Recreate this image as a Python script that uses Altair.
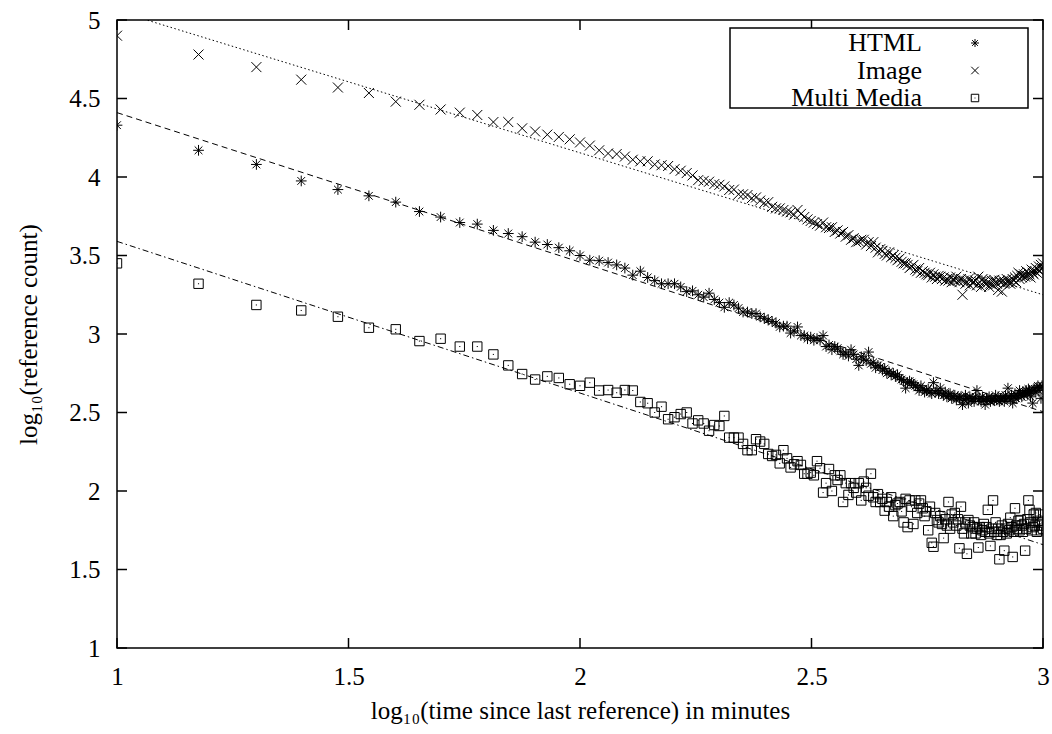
import altair as alt
import numpy as np
import pandas as pd

# time since last reference (minutes), sampled every 5 minutes
minutes = list(range(10, 1001, 5))

html_counts = [
    4.33, 4.17, 4.08, 3.975, 3.92, 3.88, 3.84, 3.78, 3.745, 3.71,
    3.70, 3.66, 3.64, 3.62, 3.585, 3.57, 3.55, 3.53, 3.50, 3.47,
    3.467, 3.455, 3.44, 3.42, 3.375, 3.40, 3.36, 3.34, 3.32, 3.32,
    3.32, 3.30, 3.27, 3.275, 3.25, 3.235, 3.26, 3.22, 3.20, 3.17,
    3.20, 3.185, 3.165, 3.14, 3.14, 3.13, 3.13, 3.11, 3.10, 3.09,
    3.08, 3.07, 3.045, 3.05, 3.05, 3.006, 3.02, 3.045, 2.99, 2.99,
    2.97, 2.98, 2.96, 2.97, 2.96, 2.99, 2.92, 2.93, 2.90, 2.92,
    2.91, 2.89, 2.87, 2.88, 2.86, 2.90, 2.87, 2.84, 2.80, 2.855,
    2.84, 2.83, 2.885, 2.81, 2.82, 2.785, 2.80, 2.79, 2.77, 2.78,
    2.75, 2.76, 2.74, 2.75, 2.73, 2.74, 2.72, 2.71, 2.70, 2.655,
    2.69, 2.70, 2.69, 2.68, 2.67, 2.66, 2.64, 2.67, 2.65, 2.63,
    2.64, 2.65, 2.63, 2.62, 2.69, 2.63, 2.64, 2.62, 2.655, 2.62,
    2.61, 2.63, 2.60, 2.61, 2.62, 2.59, 2.60, 2.61, 2.58, 2.60,
    2.59, 2.60, 2.55, 2.58, 2.61, 2.59, 2.56, 2.60, 2.58, 2.59,
    2.57, 2.60, 2.64, 2.58, 2.59, 2.57, 2.60, 2.58, 2.55, 2.59,
    2.58, 2.60, 2.57, 2.59, 2.58, 2.575, 2.61, 2.58, 2.60, 2.57,
    2.59, 2.58, 2.60, 2.57, 2.61, 2.59, 2.655, 2.60, 2.58, 2.61,
    2.56, 2.60, 2.62, 2.59, 2.61, 2.60, 2.64, 2.62, 2.60, 2.63,
    2.61, 2.63, 2.64, 2.62, 2.65, 2.64, 2.60, 2.63, 2.56, 2.64,
    2.65, 2.63, 2.66, 2.67, 2.64, 2.66, 2.59, 2.67, 2.66,
]

image_counts = [
    4.90, 4.78, 4.70, 4.62, 4.57, 4.535, 4.48, 4.46, 4.43, 4.41,
    4.395, 4.35, 4.35, 4.31, 4.29, 4.27, 4.255, 4.24, 4.22, 4.20,
    4.17, 4.15, 4.146, 4.13, 4.11, 4.10, 4.10, 4.08, 4.075, 4.07,
    4.05, 4.04, 4.025, 4.01, 3.98, 3.975, 3.97, 3.955, 3.95, 3.94,
    3.917, 3.92, 3.89, 3.89, 3.885, 3.865, 3.87, 3.85, 3.835, 3.84,
    3.81, 3.80, 3.80, 3.79, 3.78, 3.775, 3.76, 3.79, 3.765, 3.745,
    3.73, 3.72, 3.71, 3.70, 3.69, 3.71, 3.68, 3.675, 3.68, 3.65,
    3.66, 3.64, 3.65, 3.62, 3.63, 3.60, 3.61, 3.585, 3.59, 3.60,
    3.60, 3.57, 3.585, 3.56, 3.585, 3.55, 3.52, 3.54, 3.53, 3.51,
    3.50, 3.52, 3.49, 3.50, 3.485, 3.47, 3.48, 3.46, 3.45, 3.45,
    3.44, 3.42, 3.43, 3.44, 3.41, 3.40, 3.42, 3.39, 3.40, 3.39,
    3.38, 3.375, 3.39, 3.36, 3.38, 3.365, 3.35, 3.37, 3.365, 3.35,
    3.36, 3.34, 3.35, 3.34, 3.36, 3.33, 3.35, 3.34, 3.365, 3.34,
    3.33, 3.35, 3.25, 3.34, 3.32, 3.33, 3.35, 3.31, 3.34, 3.325,
    3.33, 3.34, 3.31, 3.365, 3.33, 3.30, 3.35, 3.33, 3.34, 3.32,
    3.33, 3.30, 3.32, 3.34, 3.31, 3.345, 3.33, 3.32, 3.28, 3.34,
    3.33, 3.27, 3.34, 3.32, 3.325, 3.35, 3.33, 3.34, 3.32, 3.33,
    3.35, 3.34, 3.36, 3.33, 3.37, 3.39, 3.35, 3.38, 3.36, 3.37,
    3.38, 3.365, 3.40, 3.37, 3.39, 3.38, 3.36, 3.41, 3.39, 3.38,
    3.40, 3.42, 3.39, 3.41, 3.43, 3.40, 3.44, 3.42, 3.45,
]

multimedia_counts = [
    3.45, 3.32, 3.185, 3.15, 3.11, 3.04, 3.03, 2.955, 2.97, 2.92,
    2.92, 2.87, 2.80, 2.745, 2.71, 2.73, 2.72, 2.68, 2.67, 2.69,
    2.64, 2.643, 2.626, 2.643, 2.64, 2.567, 2.559, 2.50, 2.537, 2.457,
    2.47, 2.49, 2.50, 2.43, 2.45, 2.43, 2.384, 2.42, 2.414, 2.478,
    2.34, 2.34, 2.34, 2.30, 2.26, 2.26, 2.33, 2.315, 2.30, 2.236,
    2.223, 2.23, 2.176, 2.26, 2.208, 2.15, 2.17, 2.19, 2.166, 2.11,
    2.11, 2.117, 2.10, 2.19, 2.145, 1.99, 2.05, 2.14, 2.00, 2.10,
    2.07, 2.10, 1.93, 2.05, 1.975, 2.05, 2.02, 1.99, 2.05, 1.94,
    2.06, 2.02, 1.97, 2.11, 1.96, 1.93, 1.98, 1.93, 1.95, 1.875,
    1.93, 1.90, 1.96, 1.84, 1.91, 1.92, 1.93, 1.87, 1.80, 1.95,
    1.77, 1.94, 1.90, 1.79, 1.94, 1.86, 1.92, 1.94, 1.89, 1.84,
    1.87, 1.75, 1.90, 1.67, 1.645, 1.86, 1.815, 1.80, 1.84, 1.79,
    1.70, 1.82, 1.78, 1.93, 1.76, 1.85, 1.80, 1.86, 1.78, 1.82,
    1.635, 1.90, 1.76, 1.73, 1.80, 1.60, 1.815, 1.78, 1.73, 1.77,
    1.80, 1.73, 1.76, 1.64, 1.77, 1.72, 1.75, 1.79, 1.74, 1.77,
    1.88, 1.73, 1.65, 1.76, 1.94, 1.74, 1.80, 1.72, 1.76, 1.565,
    1.72, 1.78, 1.74, 1.62, 1.76, 1.73, 1.79, 1.75, 1.83, 1.77,
    1.58, 1.74, 1.89, 1.78, 1.76, 1.81, 1.75, 1.815, 1.78, 1.74,
    1.79, 1.62, 1.76, 1.82, 1.94, 1.88, 1.80, 1.75, 1.77, 1.85,
    1.78, 1.86, 1.74, 1.81, 1.78, 1.85, 1.75, 1.80, 1.76,
]

# least-squares fit lines (value at log10 t = 1 and 3)
fit_x = [1.0, 3.0]
html_fit = [4.41, 2.505]
image_fit = [5.058, 3.25]
multimedia_fit = [3.59, 1.658]

x_ticks = [1, 1.5, 2, 2.5, 3]
y_ticks = [1, 1.5, 2, 2.5, 3, 3.5, 4, 4.5, 5]
legend_labels = ["HTML", "Image", "Multi Media"]

FONT = "Liberation Serif"
W, H = 926, 628
TICK_PX = 10

STAR = "M-1,0L1,0M0,-1L0,1M-0.72,-0.72L0.72,0.72M-0.72,0.72L0.72,-0.72"
CROSS = "M-1,-1L1,1M-1,1L1,-1"
BOX = "M-1,-1L1,-1L1,1L-1,1ZM-0.12,0L0.12,0"

XMIN, XMAX, YMIN, YMAX = 1, 3, 1, 5
xscale = alt.Scale(domain=[XMIN, XMAX], nice=False, zero=False)
yscale = alt.Scale(domain=[YMIN, YMAX], nice=False, zero=False)
xaxis = alt.Axis(values=x_ticks, format="~g", ticks=False, domain=False, grid=False,
                 labelFlush=False, labelPadding=16, labelFontSize=25, labelFont=FONT,
                 labelColor="black", title="log\u2081\u2080(time since last reference) in minutes",
                 titleFont=FONT, titleFontSize=25, titleFontWeight="normal",
                 titleColor="black", titlePadding=9, labelOverlap=False)
yaxis = alt.Axis(values=y_ticks, format="~g", ticks=False, domain=False, grid=False,
                 labelFlush=False, labelPadding=17, labelFontSize=25, labelFont=FONT,
                 labelColor="black", title="log\u2081\u2080(reference count)",
                 titleFont=FONT, titleFontSize=25, titleFontWeight="normal",
                 titleColor="black", titlePadding=27, labelOverlap=False)


def X(field):
    return alt.X(f"{field}:Q", scale=xscale, axis=xaxis)


def Y(field):
    return alt.Y(f"{field}:Q", scale=yscale, axis=yaxis)


logt = np.log10(np.array(minutes, dtype=float))
pts = pd.DataFrame({"lt": logt, "html": html_counts, "image": image_counts,
                    "mm": multimedia_counts})
fits = pd.DataFrame({"fx": fit_x, "html": html_fit, "image": image_fit, "mm": multimedia_fit})
xt = pd.DataFrame({"v": x_ticks})
yt = pd.DataFrame({"v": y_ticks})
one = pd.DataFrame({"label": legend_labels})

layers = []

# tick marks pointing inward on all four sides
rule = dict(color="black", strokeWidth=1.5)
layers.append(alt.Chart(xt).mark_rule(**rule).encode(
    x=X("v"), y=alt.value(H), y2=alt.value(H - TICK_PX)))
layers.append(alt.Chart(xt).mark_rule(**rule).encode(
    x=X("v"), y=alt.value(0), y2=alt.value(TICK_PX)))
layers.append(alt.Chart(yt).mark_rule(**rule).encode(
    y=Y("v"), x=alt.value(0), x2=alt.value(TICK_PX)))
layers.append(alt.Chart(yt).mark_rule(**rule).encode(
    y=Y("v"), x=alt.value(W), x2=alt.value(W - TICK_PX)))

# fit lines
for col, dash in [("image", [1.5, 2.5]), ("html", [6, 4]), ("mm", [6, 3, 1.5, 3])]:
    layers.append(alt.Chart(fits).mark_line(color="black", strokeWidth=1, strokeDash=dash,
                                            clip=True).encode(x=X("fx"), y=Y(col)))

# data points
for col, shape, size in [("html", STAR, 115), ("image", CROSS, 100), ("mm", BOX, 88)]:
    layers.append(alt.Chart(pts).mark_point(shape=shape, size=size, filled=False,
                                            color="black", strokeWidth=1, opacity=1,
                                            clip=True).encode(x=X("lt"), y=Y(col)))

# legend box (gnuplot style: label then sample)
layers.append(alt.Chart(one.head(1)).mark_rect(fill="white", stroke="black",
                                              strokeWidth=1.5).encode(
    x=alt.value(613), x2=alt.value(911), y=alt.value(8), y2=alt.value(88)))
for i, (shape, size) in enumerate([(STAR, 64), (CROSS, 56), (BOX, 56)]):
    ypos = 23 + 27.5 * i
    sel = one.iloc[[i]]
    layers.append(alt.Chart(sel).mark_text(align="right", baseline="middle", font=FONT,
                                           fontSize=26, color="black").encode(
        x=alt.value(805), y=alt.value(ypos), text="label:N"))
    layers.append(alt.Chart(sel).mark_point(shape=shape, size=size, filled=False,
                                            color="black", strokeWidth=1,
                                            opacity=1).encode(
        x=alt.value(858), y=alt.value(ypos)))

chart = alt.layer(*layers).properties(
    width=W, height=H,
    autosize=alt.AutoSizeParams(type="none"),
    padding={"left": 117, "top": 20, "right": 9, "bottom": 86},
    background="white",
).configure_view(stroke="black", strokeWidth=1.5)

chart.save("out.html", embed_options={"renderer": "svg", "actions": False})
